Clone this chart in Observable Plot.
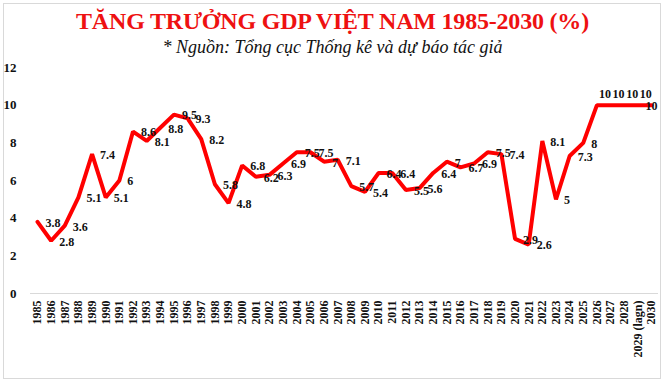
<!DOCTYPE html>
<html>
<head>
<meta charset="utf-8">
<script src="https://cdn.jsdelivr.net/npm/d3@7"></script>
<script src="https://cdn.jsdelivr.net/npm/@observablehq/plot@0.6"></script>
<style>
  html, body { margin: 0; padding: 0; background: #fff; }
  #wrap { position: relative; width: 665px; height: 383px; overflow: hidden; background: #fff; }
  #frame { position: absolute; left: 3px; top: 3px; width: 658px; height: 376px; border: 1px solid #d9d9d9; box-sizing: border-box; }
  #title { position: absolute; left: 0; width: 665px; top: 8px; text-align: center;
    font-family: "Liberation Serif", serif; font-weight: bold; font-size: 24px; color: #ee1111; letter-spacing: -0.2px; }
  #subtitle { position: absolute; left: 0; width: 665px; top: 37px; text-align: center;
    font-family: "Liberation Serif", serif; font-style: italic; font-size: 18px; color: #111; }
  #chart { position: absolute; left: 0; top: 55px; }
</style>
</head>
<body>
<div id="wrap">
  <div id="frame"></div>
  <div id="title">TĂNG TRƯỞNG GDP VIỆT NAM 1985-2030 (%)</div>
  <div id="subtitle">* Nguồn: Tổng cục Thống kê và dự báo tác giả</div>
  <div id="chart"></div>
</div>
<script>
const years = ["1985","1986","1987","1988","1989","1990","1991","1992","1993","1994",
  "1995","1996","1997","1998","1999","2000","2001","2002","2003","2004",
  "2005","2006","2007","2008","2009","2010","2011","2012","2013","2014",
  "2015","2016","2017","2018","2019","2020","2021","2022","2023","2024",
  "2025","2026","2027","2028","2029 (lagn)","2030"];
const growth = [3.8,2.8,3.6,5.1,7.4,5.1,6,8.6,8.1,8.8,
  9.5,9.3,8.2,5.8,4.8,6.8,6.2,6.3,6.9,7.5,
  7.5,7,7.1,5.7,5.4,6.4,6.4,5.5,5.6,6.4,
  7,6.7,6.9,7.5,7.4,2.9,2.6,8.1,5,7.3,
  8,10,10,10,10,10];
const yTicks = [0,2,4,6,8,10,12];

const data = years.map((y, i) => ({year: y, value: growth[i], i}));
const main = data.filter(d => d.value < 10);
const topRow = data.filter(d => d.value >= 10 && d.i < data.length - 1);
const last = data.filter(d => d.i === data.length - 1);

const serif = "'Liberation Serif', 'Times New Roman', serif";

const chart = Plot.plot({
  width: 665,
  height: 328,
  marginLeft: 30,
  marginRight: 7,
  marginTop: 11,
  marginBottom: 89,
  style: {fontFamily: serif, fontWeight: "bold", color: "#111", background: "transparent"},
  x: {type: "point", domain: years, range: [37, 651], padding: 0, round: false},
  y: {domain: [0, 12], range: [238, 12]},
  marks: [
    Plot.ruleY([0], {stroke: "#d9d9d9", strokeWidth: 1}),
    Plot.axisY(yTicks, {tickSize: 0, tickPadding: 14, fontSize: 13, fontWeight: "bold", fontFamily: serif, label: null}),
    Plot.axisX({tickSize: 0, tickPadding: 6, tickRotate: -90, fontSize: 12, fontWeight: "bold", fontFamily: serif, label: null}),
    Plot.line(data, {x: "year", y: "value", stroke: "#ff0000", strokeWidth: 4, strokeLinejoin: "miter"}),
    Plot.text(main, {x: "year", y: "value", text: d => String(d.value), textAnchor: "start", dx: 8, dy: 1, fontSize: 12, fontWeight: "bold", fill: "#111"}),
    Plot.text(topRow, {x: "year", y: "value", text: d => String(d.value), textAnchor: "middle", dx: 8, dy: -11, fontSize: 12, fontWeight: "bold", fill: "#111"}),
    Plot.text(last, {x: "year", y: "value", text: d => String(d.value), textAnchor: "middle", dx: 0, dy: 1, fontSize: 12, fontWeight: "bold", fill: "#111"})
  ]
});
document.getElementById("chart").appendChild(chart);
</script>
</body>
</html>
